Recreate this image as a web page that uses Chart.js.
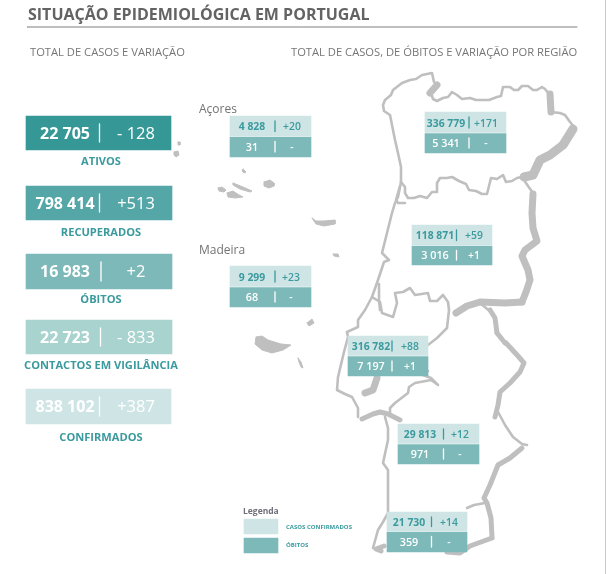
<!DOCTYPE html>
<html lang="pt">
<head>
<meta charset="utf-8">
<title>Situação epidemiológica em Portugal</title>
<script src="https://cdn.jsdelivr.net/npm/chart.js@4"></script>
<style>
    html, body { margin: 0; padding: 0; background: #fff; }
    #page { position: relative; width: 606px; height: 574px; overflow: hidden; font-family: "Open Sans", sans-serif; }
    #map { position: absolute; left: 0; top: 0; }
    .txt { position: absolute; white-space: nowrap; transform: translate(-50%, -50%); line-height: 1; }
    .left { transform: translate(0, -50%); }
</style>
</head>
<body>
<div id="page"><canvas id="map" width="606" height="574"></canvas></div>
<script>
// Totals by status
const statusNames = ['ATIVOS', 'RECUPERADOS', 'ÓBITOS', 'CONTACTOS EM VIGILÂNCIA', 'CONFIRMADOS'];
const statusTotals = ['22 705', '798 414', '16 983', '22 723', '838 102'];
const statusChanges = ['- 128', '+513', '+2', '- 833', '+387'];

// Totals by region
const regionNames = ['Açores', 'Madeira', 'Norte', 'Centro', 'Lisboa e Vale do Tejo', 'Alentejo', 'Algarve'];
const regionCases = ['4 828', '9 299', '336 779', '118 871', '316 782', '29 813', '21 730'];
const regionCaseChanges = ['+20', '+23', '+171', '+59', '+88', '+12', '+14'];
const regionDeaths = ['31', '68', '5 341', '3 016', '7 197', '971', '359'];
const regionDeathChanges = ['-', '-', '-', '+1', '+1', '-', '-'];

// Colours
const GREY = '#bfbfbf';
const TEAL = '#3a9a9e';
const CASES = '#cfe5e5';
const DEATHS = '#7db9b8';
const statusColors = ['#359896', '#55a7a7', '#7db9b8', '#a8d3cf', '#cfe5e5'];

// Layout: [left, right, top, bottom, divider x]
const statusBoxes = [
    [26, 171, 116, 150, 99.5],
    [26, 172, 186, 220, 99.5],
    [26, 172, 254, 289, 101],
    [26, 172, 320, 354, 100.5],
    [26, 171, 389, 424, 99.5]
];
const statusLabelY = [161, 232, 299, 365, 437];
// [left, right, top, middle, bottom, divider x, total x, change x]
const regionBoxes = [
    [230, 311, 116, 136.5, 157, 275, 252, 292],
    [230, 311, 266, 287, 307, 275, 252, 291],
    [425, 506, 112, 133, 153, 469, 446, 486],
    [412, 492, 225, 245.5, 265, 456.5, 435, 474],
    [348, 428, 336, 356, 376, 392, 371, 410],
    [398, 479, 424, 444, 464, 443.5, 420, 460],
    [387, 467, 512, 531.5, 552, 431.5, 409, 449]
];

// Map outlines, in picture units: [x, y, x, y, ...]
const outlineThin = [
    // north coast and northern border
    [401, 182, 401, 167, 398, 153, 395, 140, 392, 125, 390, 115, 384, 111, 383, 105, 385, 100, 391, 95, 393, 90, 402, 83, 410, 80, 416, 79, 422, 75, 432, 73, 434, 82],
    [431, 93, 433, 99, 437, 101, 443, 98, 448, 97, 452, 92, 457, 95, 462, 99, 470, 98, 476, 100, 483, 100, 489, 100, 497, 97, 501, 96, 503, 87, 510, 87, 514, 90, 518, 90, 522, 86, 528, 86, 533, 90, 537, 90, 542, 87, 545, 89, 550, 95],
    [551, 112, 560, 113, 565, 115, 570, 122, 575, 128],
    // Norte / Centro border
    [401, 182, 405, 187, 405, 193, 408, 198, 414, 198, 420, 196, 427, 198, 432, 192, 437, 192, 437, 183, 440, 178, 447, 178, 452, 177, 459, 181, 466, 184, 469, 190, 476, 191, 482, 194, 487, 194, 489, 186, 491, 178, 497, 179, 503, 175, 506, 182, 512, 181, 517, 178, 522, 177, 528, 186, 533, 193],
    // centre coast
    [401, 182, 398, 197, 395, 203, 392, 213, 387, 233, 382, 253, 389, 260, 384, 262, 378, 280, 372, 297, 365, 310, 358, 320, 358, 327, 347, 332],
    [400, 186, 396, 200, 398, 203, 405, 203],
    // Centro / Lisboa border
    [372, 297, 380, 302, 382, 313, 393, 317, 397, 303, 395, 293, 403, 292, 410, 288, 415, 295, 428, 293, 430, 301, 437, 301, 443, 295, 448, 302, 449, 310, 447, 328, 437, 338, 428, 345],
    [379, 284, 379, 300, 380, 310],
    // Lisboa coast and southern border
    [347, 332, 348, 337, 344, 352, 338, 377, 337, 390, 345, 394, 352, 397, 358, 408, 358, 417],
    [428, 371, 423, 375, 431, 378, 438, 385, 431, 380, 415, 383, 409, 387, 408, 393, 395, 403, 390, 408, 390, 413],
    // south-west coast
    [385, 417, 388, 428, 388, 440, 383, 463, 388, 470, 388, 490, 388, 513, 383, 522, 378, 530, 373, 548],
    // Alentejo / Spain lower part
    [480, 303, 492, 313],
    [497, 410, 505, 425, 513, 437, 522, 444, 527, 445],
    [485, 503, 474, 505, 467, 508]
];
const outlineThick = [
    [497, 333, 495, 318, 490, 310],
    [505, 343, 497, 333],
    [506, 343, 518, 356, 524, 363, 520, 372, 510, 383, 500, 392, 498, 405, 495, 417],
    [522, 448, 510, 458, 498, 465, 490, 485, 484, 498, 487, 503, 491, 518, 492, 537],
    [492, 538, 470, 546, 460, 553, 447, 552],
    [381, 551, 376, 549, 384, 546],
    [362, 419, 373, 414, 380, 412, 388, 414, 400, 420]
];
const outlineHeavy = [
    [430, 93, 437, 85],
    [550, 94, 551, 112],
    [377, 378, 373, 390, 365, 393],
    [533, 194, 532, 213, 533, 228, 537, 241, 525, 250, 522, 256, 528, 270, 530, 280, 526, 292, 522, 302],
    [522, 302, 505, 303, 480, 302, 467, 306, 456, 313]
];
const outlineBand = [
    [573, 129, 563, 145, 550, 155, 540, 160, 533, 175, 524, 177]
];
// Islands, filled
const islands = [
    [243, 169, 246, 172, 244, 173, 242, 171],
    [233, 183, 243, 187, 252, 191, 250, 192, 240, 189, 233, 185],
    [264, 182, 270, 180, 274, 183, 274, 186, 269, 188, 264, 186],
    [218, 188, 222, 187, 226, 190, 224, 192, 219, 191],
    [227, 193, 233, 191, 239, 195, 243, 197, 235, 198, 228, 197],
    [312, 218, 316, 221, 324, 221, 335, 220, 335, 224, 324, 226, 316, 224],
    [333, 254, 338, 254, 339, 257, 334, 256],
    [307, 323, 312, 319, 314, 323, 309, 326],
    [256, 337, 262, 336, 268, 340, 281, 344, 291, 345, 283, 350, 272, 353, 262, 350, 255, 344],
    [298, 358, 301, 362, 303, 368, 301, 367, 299, 362],
    [178, 142, 180, 142, 180, 145, 178, 145],
    [174, 152, 178, 151, 179, 155, 176, 157, 174, 155]
];

// Turn [x, y, x, y, ...] into points for the scatter datasets
function toPoints(flat) {
    const points = [];
    for (let i = 0; i < flat.length; i += 2) {
        points.push({ x: flat[i], y: flat[i + 1] });
    }
    return points;
}

function lineDataset(flat, width, color, order) {
    return {
        type: 'scatter',
        indexAxis: 'x',
        showLine: true,
        data: toPoints(flat),
        borderColor: color,
        borderWidth: width,
        borderCapStyle: 'round',
        borderJoinStyle: 'round',
        pointRadius: 0,
        tension: 0,
        order: order
    };
}

function boxDataset(left, right, top, bottom, color) {
    return {
        type: 'bar',
        indexAxis: 'y',
        grouped: false,
        data: [{ x: [left, right], y: (top + bottom) / 2 }],
        backgroundColor: color,
        barThickness: bottom - top,
        order: 2
    };
}

function dividerDataset(x, y1, y2, color) {
    const d = lineDataset([x, y1, x, y2], 1.3, color, 1);
    d.borderCapStyle = 'butt';
    return d;
}

// Build all datasets
function buildDatasets() {
    const datasets = [];

    outlineThin.forEach(o => datasets.push(lineDataset(o, 2.6, GREY, 3)));
    outlineThick.forEach(o => datasets.push(lineDataset(o, 5, GREY, 3)));
    outlineHeavy.forEach(o => datasets.push(lineDataset(o, 7, GREY, 3)));
    outlineBand.forEach(o => datasets.push(lineDataset(o, 9, GREY, 3)));
    islands.forEach(o => {
        const d = lineDataset(o.concat(o.slice(0, 2)), 1, GREY, 3);
        d.fill = 'shape';
        d.backgroundColor = GREY;
        datasets.push(d);
    });

    statusBoxes.forEach((b, i) => {
        datasets.push(boxDataset(b[0], b[1], b[2], b[3], statusColors[i]));
        datasets.push(dividerDataset(b[4], b[2] + 8, b[3] - 8, '#ffffff'));
    });

    regionBoxes.forEach(b => {
        datasets.push(boxDataset(b[0], b[1], b[2], b[3] - 0.5, CASES));
        datasets.push(boxDataset(b[0], b[1], b[3] + 0.5, b[4], DEATHS));
        datasets.push(dividerDataset(b[5], b[2] + 5, b[3] - 5, TEAL));
        datasets.push(dividerDataset(b[5], b[3] + 5, b[4] - 5, '#ffffff'));
    });

    // legend swatches
    datasets.push(boxDataset(244, 278, 519, 534, CASES));
    datasets.push(boxDataset(244, 278, 538, 553, DEATHS));

    // header rule and window edge
    datasets.push(lineDataset([27, 27, 577, 27], 1, '#7f7f7f', 1));
    datasets.push(lineDataset([605.5, 0, 605.5, 574], 1, '#c8c8c8', 1));

    return datasets;
}

// Add a text label on top of the canvas
function addText(text, x, y, css, left) {
    const el = document.createElement('div');
    el.className = left ? 'txt left' : 'txt';
    el.style.cssText = `left:${x}px;top:${y}px;${css}`;
    el.textContent = text;
    document.getElementById('page').appendChild(el);
}

function addLabels() {
    addText('SITUAÇÃO EPIDEMIOLÓGICA EM PORTUGAL', 28, 14, 'font-size:16px;font-weight:700;color:#636363;', true);
    addText('TOTAL DE CASOS E VARIAÇÃO', 30, 52, 'font-size:11.2px;color:#767676;', true);
    addText('TOTAL DE CASOS, DE ÓBITOS E VARIAÇÃO POR REGIÃO', 291, 52, 'font-size:11.2px;color:#767676;', true);
    addText('Açores', 199, 109, 'font-size:12px;color:#737373;', true);
    addText('Madeira', 199, 250, 'font-size:12px;color:#737373;', true);

    statusNames.forEach((name, i) => {
        const b = statusBoxes[i];
        const mid = (b[2] + b[3]) / 2;
        addText(statusTotals[i], 65, mid - 0.5, 'font-size:16px;font-weight:700;color:#fff;');
        addText(statusChanges[i], 136, mid - 0.5, 'font-size:16.5px;color:#fff;');
        addText(name, 101, statusLabelY[i], `font-size:11.1px;font-weight:700;color:${TEAL};`);
    });

    regionNames.forEach((name, i) => {
        const b = regionBoxes[i];
        const midCases = (b[2] + b[3]) / 2;
        const midDeaths = (b[3] + b[4]) / 2;
        addText(regionCases[i], b[6], midCases, `font-size:10.4px;font-weight:700;color:${TEAL};`);
        addText(regionCaseChanges[i], b[7], midCases, `font-size:10.4px;font-weight:600;color:${TEAL};`);
        addText(regionDeaths[i], b[6], midDeaths, 'font-size:10.8px;font-weight:600;color:#fff;');
        addText(regionDeathChanges[i], b[7], midDeaths, 'font-size:10.4px;font-weight:600;color:#fff;');
    });

    addText('Legenda', 243, 511, 'font-size:8.5px;font-weight:700;color:#6f6f7a;', true);
    addText('CASOS CONFIRMADOS', 286, 526.5, `font-size:6px;font-weight:700;color:${TEAL};`, true);
    addText('ÓBITOS', 286, 544.5, `font-size:6px;font-weight:700;color:${TEAL};`, true);
}

// Draw everything
new Chart(document.getElementById('map').getContext('2d'), {
    type: 'bar',
    data: { datasets: buildDatasets() },
    options: {
        responsive: false,
        animation: false,
        events: [],
        layout: { padding: 0 },
        plugins: { legend: { display: false }, tooltip: { enabled: false } },
        scales: {
            x: { type: 'linear', min: 0, max: 606, display: false, offset: false },
            y: { type: 'linear', min: 0, max: 574, reverse: true, display: false, offset: false }
        }
    }
});
addLabels();
</script>
</body>
</html>
